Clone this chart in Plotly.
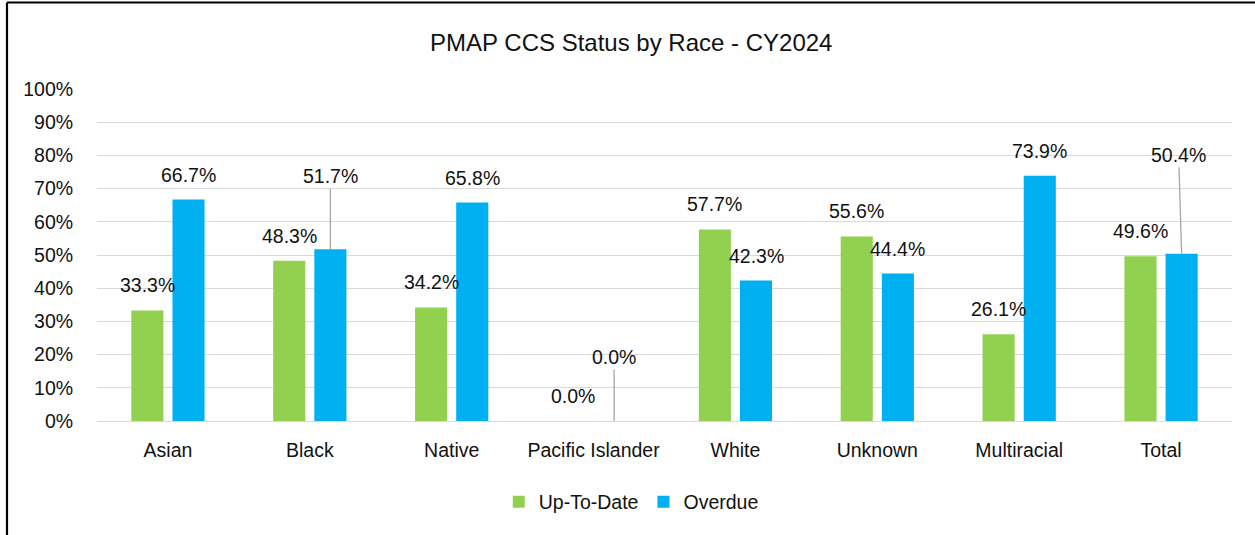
import plotly.graph_objects as go

categories = ["Asian", "Black", "Native", "Pacific Islander", "White", "Unknown", "Multiracial", "Total"]
up_to_date = [33.3, 48.3, 34.2, 0.0, 57.7, 55.6, 26.1, 49.6]
overdue = [66.7, 51.7, 65.8, 0.0, 42.3, 44.4, 73.9, 50.4]
y_ticks = [0, 10, 20, 30, 40, 50, 60, 70, 80, 90, 100]

GREEN = "#92D050"
BLUE = "#00B0F0"
GRID = "#D9D9D9"
TXT = "#111111"
REG = "Liberation Sans, Arial, sans-serif"

W, H = 1255, 535
ML, MR, MT, MB = 97, 23, 89, 114
PW = W - ML - MR
PH = H - MT - MB

fig = go.Figure()
fig.add_trace(go.Bar(name="Up-To-Date", x=categories, y=up_to_date, marker_color=GREEN,
                     marker_line_width=0, hoverinfo="x+y"))
fig.add_trace(go.Bar(name="Overdue", x=categories, y=overdue, marker_color=BLUE,
                     marker_line_width=0, hoverinfo="x+y"))

BARGAP, GROUPGAP = 0.42, 0.22
slot = PW / len(categories) * (1 - BARGAP) / 2
offsets = [-slot / 2, slot / 2]

# label placement: default offset above bar; some use leader lines (dx, dy in px)
leaders = {(1, 1): (0, 73), (1, 3): (0, 64), (1, 7): (-3, 99)}
LBL = dict(family=REG, size=19.5, color=TXT)

annotations = []
for si, series in enumerate([up_to_date, overdue]):
    for ci, (cat, v) in enumerate(zip(categories, series)):
        txt = f"{v:.1f}%"
        if (si, ci) in leaders:
            dx, dy = leaders[(si, ci)]
            annotations.append(dict(x=cat, y=v, xref="x", yref="y", text=txt,
                                    xshift=offsets[si], showarrow=True, ax=dx, ay=-dy,
                                    arrowhead=0, arrowwidth=1.3, arrowcolor="#A6A6A6",
                                    standoff=0, font=LBL))
        else:
            annotations.append(dict(x=cat, y=v, xref="x", yref="y", text=txt,
                                    xshift=offsets[si], yshift=25, showarrow=False,
                                    xanchor="center", yanchor="middle", font=LBL))

# chart border (left and top)
bx = (7 - ML) / PW
by = (PH + MT - 2.5) / PH
shapes = [
    dict(type="line", xref="paper", yref="paper", x0=bx, x1=bx, y0=-MB / PH - 0.01, y1=by,
         line=dict(color="#000000", width=2.2)),
    dict(type="line", xref="paper", yref="paper", x0=bx, x1=(W - ML) / PW + 0.01, y0=by, y1=by,
         line=dict(color="#000000", width=2.2)),
]

fig.update_layout(
    width=W, height=H,
    margin=dict(l=ML, r=MR, t=MT, b=MB, pad=0),
    paper_bgcolor="white", plot_bgcolor="white",
    barmode="group", bargap=BARGAP, bargroupgap=GROUPGAP,
    title=dict(text="PMAP CCS Status by Race - CY2024", x=0.503, xref="container",
               xanchor="center", y=1 - 43 / H, yref="container", yanchor="middle",
               font=dict(family=REG, size=24, color=TXT)),
    xaxis=dict(showgrid=False, showline=True, linecolor=GRID, linewidth=1.4,
               ticks="outside", ticklen=0, tickcolor="white", ticklabelstandoff=11,
               tickfont=dict(family=REG, size=19.5, color=TXT)),
    yaxis=dict(range=[0, 100], tickvals=y_ticks, ticktext=[f"{t}%" for t in y_ticks],
               showgrid=True, gridcolor=GRID, gridwidth=1.4, zeroline=False,
               ticks="outside", ticklen=0, tickcolor="white", ticklabelstandoff=19,
               tickfont=dict(family=REG, size=19.5, color=TXT)),
    legend=dict(orientation="h", xref="container", yref="container", x=0.503, y=1 - 502 / H,
                xanchor="center", yanchor="middle", font=dict(family=REG, size=19.5, color=TXT),
                tracegroupgap=0, bgcolor="rgba(0,0,0,0)"),
    annotations=annotations,
    shapes=shapes,
    showlegend=True,
)

fig.write_html("out.html", config={"displayModeBar": False},
               post_script="document.body.style.margin='0px';document.body.style.overflow='hidden';")
